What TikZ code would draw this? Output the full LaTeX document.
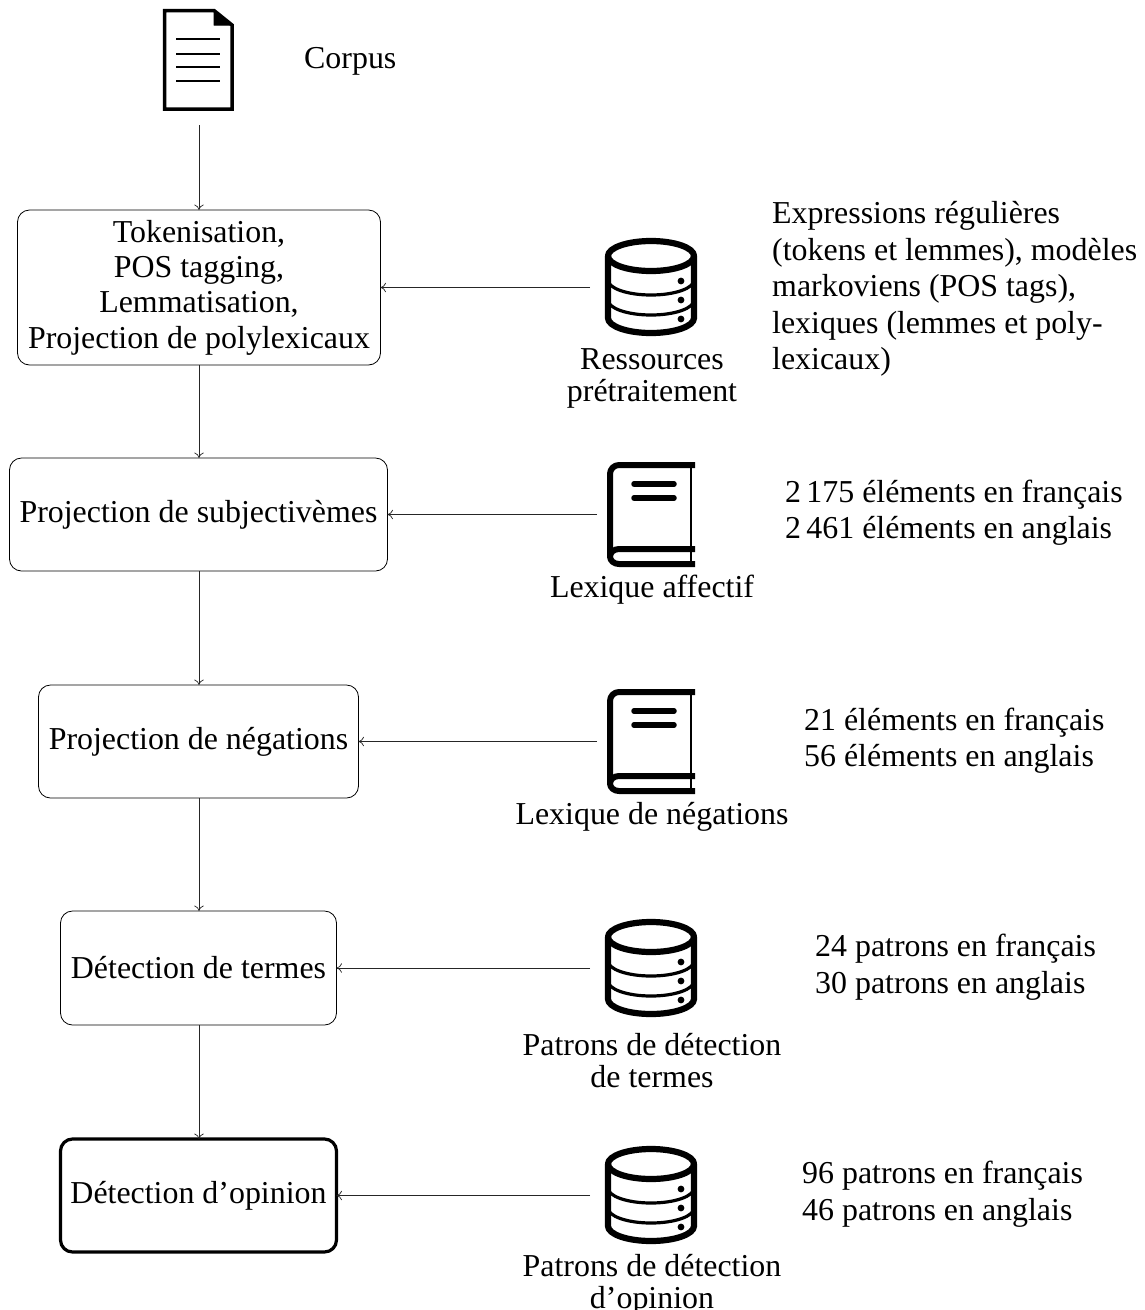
\documentclass[tikz,border=0pt]{standalone}
\usepackage{fontspec}
\usetikzlibrary{arrows.meta}
\setmainfont{Liberation Serif}
\tikzset{
  x=1pt,y=-1pt,
  stepbox/.style={draw=black,line width=0.8pt,rounded corners=12pt,align=center,inner sep=0pt,outer sep=0pt,anchor=north west,font=\fontsize{31.9pt}{35.4pt}\selectfont},
  finalbox/.style={stepbox,line width=3.2pt},
  iconbox/.style={inner sep=0pt,outer sep=0pt,anchor=north west},
  conn/.style={draw=black!85,line width=0.75pt,-{To[length=5.5pt,width=9.5pt]}},
  lab/.style={align=center,inner sep=0pt,font=\fontsize{31.9pt}{32pt}\selectfont},
  side/.style={align=left,anchor=west,inner sep=0pt,font=\fontsize{31.9pt}{36.4pt}\selectfont},
  ink/.style={draw=black,line cap=round,line join=round},
  pics/dbicon/.style={code={
    \draw[ink,line width=6.2pt] (0,0) ellipse [x radius=43,y radius=15];
    \draw[ink,line width=6.2pt] (-43,0) -- (-43,62) arc[start angle=180,end angle=0,x radius=43,y radius=15] -- (43,0);
    \draw[ink,line width=3.2pt] (-43,24) arc[start angle=180,end angle=0,x radius=43,y radius=15];
    \draw[ink,line width=3.2pt] (-43,44) arc[start angle=180,end angle=0,x radius=43,y radius=15];
    \fill (30,25) circle (3.4) (30,44) circle (3.4) (30,63) circle (3.4);
  }},
  pics/bookicon/.style={code={
    \draw[ink,line cap=butt,line width=6pt] (88,3) -- (12,3) arc[start angle=270,end angle=180,radius=9] -- (3,94.5);
    \draw[ink,line cap=butt,line width=6pt] (88,87) -- (12,87) arc[start angle=270,end angle=90,x radius=9,y radius=7.5] -- (88,102);
    \draw[line width=2.4pt] (84,3) -- (84,102);
    \draw[ink,line width=5.5pt] (27,22) -- (67,22) (27,36) -- (67,36);
  }},
}
\begin{document}
\begin{tikzpicture}
\useasboundingbox (0,0) rectangle (1144,1310);
% document icon
\node[iconbox,minimum width=70pt,minimum height=115pt] (doc) at (164,10) {};
\draw[ink,line width=3.5pt,line join=miter] (164.5,10.5) -- (214,10.5) -- (232,25) -- (232,109) -- (164.5,109) -- cycle;
\fill[line join=round,draw=black,line width=1pt] (214,10.5) -- (232,25) -- (214,25) -- cycle;
\draw[line width=2pt] (176,39) -- (220,39) (176,54) -- (220,54) (176,67) -- (220,67) (176,81) -- (220,81);
\node[side] (corpus) at (304,61) {Corpus};
% process boxes
\node[stepbox,minimum width=363pt,minimum height=155pt] (b1) at (17.5,210)
  {Tokenisation,\\POS tagging,\\Lemmatisation,\\Projection de polylexicaux};
\node[stepbox,minimum width=378pt,minimum height=113pt] (b2) at (9.5,458) {Projection de subjectivèmes};
\node[stepbox,minimum width=320pt,minimum height=113pt] (b3) at (38.5,685) {Projection de négations};
\node[stepbox,minimum width=276pt,minimum height=114pt] (b4) at (60.5,911) {Détection de termes};
\node[finalbox,minimum width=276pt,minimum height=113pt] (b5) at (60.5,1139) {Détection d’opinion};
% icons
\node[iconbox,minimum width=107pt,minimum height=98pt] (r1) at (590,238) {};
\pic at (651,256) {dbicon};
\node[iconbox,minimum width=98pt,minimum height=105pt] (r2) at (597,462) {};
\pic at (607,462) {bookicon};
\node[iconbox,minimum width=98pt,minimum height=105pt] (r3) at (597,689) {};
\pic at (607,689) {bookicon};
\node[iconbox,minimum width=107pt,minimum height=98pt] (r4) at (590,919) {};
\pic at (651,937) {dbicon};
\node[iconbox,minimum width=107pt,minimum height=98pt] (r5) at (590,1146) {};
\pic at (651,1164) {dbicon};
% connectors
\draw[conn] (doc.south -| b1.north) -- (b1.north);
\draw[conn] (b1.south) -- (b1.south |- b2.north);
\draw[conn] (b1.south |- b2.south) -- (b1.south |- b3.north);
\draw[conn] (b1.south |- b3.south) -- (b1.south |- b4.north);
\draw[conn] (b1.south |- b4.south) -- (b1.south |- b5.north);
\draw[conn] (r1.west |- b1.east) -- (b1.east);
\draw[conn] (r2.west) -- (r2.west -| b2.east);
\draw[conn] (r3.west) -- (r3.west -| b3.east);
\draw[conn] (r4.west |- b4.east) -- (b4.east);
\draw[conn] (r5.west |- b5.east) -- (b5.east);
% icon labels
\node[lab] (l1) at (652,378.5) {Ressources\\prétraitement};
\node[lab] (l2) at (652,590) {Lexique affectif};
\node[lab] (l3) at (652,817) {Lexique de négations};
\node[lab] (l4) at (652,1061) {Patrons de détection\\de termes};
\node[lab] (l5) at (652,1284.5) {Patrons de détection\\d’opinion};
% side texts
\node[side] (s1) at (772,289) {Expressions régulières\\(tokens et lemmes), modèles\\markoviens (POS tags),\\lexiques (lemmes et poly-\\lexicaux)};
\node[side] (s2) at (785,513) {2\,175 éléments en français\\2\,461 éléments en anglais};
\node[side] (s3) at (804,741) {21 éléments en français\\56 éléments en anglais};
\node[side] (s4) at (815,967) {24 patrons en français\\30 patrons en anglais};
\node[side] (s5) at (802,1194) {96 patrons en français\\46 patrons en anglais};
\end{tikzpicture}
\end{document}
